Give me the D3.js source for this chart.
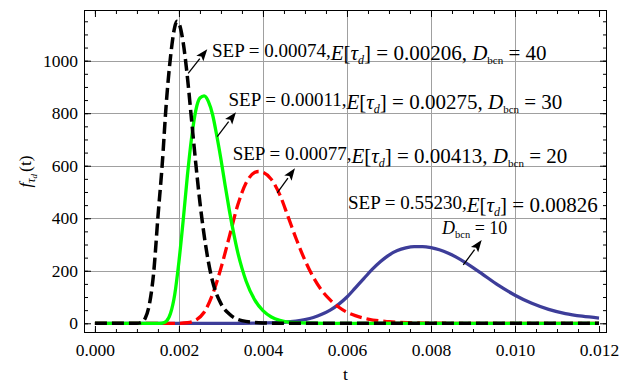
<!DOCTYPE html>
<html>
<head>
<meta charset="utf-8">
<script src="https://cdn.jsdelivr.net/npm/d3@7"></script>
<style>
  body { margin: 0; background: #fff; }
  svg { display: block; }
  text { font-family: "Liberation Serif", "Times New Roman", serif; fill: #000; white-space: pre; }
</style>
</head>
<body>
<svg id="chart" width="630" height="385"></svg>
<script>
// Delay-time densities f(t) for four beacon distances D_bcn
const tD40 = [0, 0.0010, 0.0011, 0.0012, 0.0013, 0.0014, 0.0015, 0.0016, 0.0017, 0.0018, 0.0019, 0.00195, 0.0020, 0.0021, 0.0022, 0.0023, 0.0024, 0.0025, 0.0026, 0.0027, 0.0028, 0.0030, 0.0032, 0.0035, 0.0040, 0.0045, 0.012];
const fD40 = [0, 0, 3, 20, 75, 195, 405, 600, 840, 1015, 1128, 1150, 1142, 1070, 940, 775, 610, 460, 335, 235, 160, 75, 35, 10, 1, 0, 0];

const tD30 = [0, 0.0015, 0.0016, 0.0017, 0.0018, 0.0019, 0.0020, 0.0021, 0.0022, 0.0023, 0.0024, 0.0025, 0.0026, 0.0027, 0.0028, 0.0029, 0.0030, 0.0031, 0.0032, 0.0033, 0.0034, 0.0035, 0.0036, 0.0038, 0.0040, 0.0042, 0.0044, 0.0046, 0.0050, 0.0055, 0.012];
const fD30 = [0, 0, 1, 8, 38, 110, 235, 390, 560, 705, 810, 858, 866, 845, 795, 715, 625, 525, 430, 345, 270, 210, 160, 90, 48, 24, 11, 4.5, 1, 0, 0];

const tD20 = [0, 0.0020, 0.0022, 0.0024, 0.0026, 0.0028, 0.0030, 0.0032, 0.0034, 0.0036, 0.0038, 0.0039, 0.0040, 0.0042, 0.0044, 0.0046, 0.0048, 0.0050, 0.0052, 0.0054, 0.0056, 0.0058, 0.0060, 0.0062, 0.0065, 0.0070, 0.0075, 0.0080, 0.0085, 0.012];
const fD20 = [0, 0, 2, 12, 42, 110, 210, 330, 450, 535, 574, 578, 575, 548, 490, 405, 318, 240, 175, 125, 89, 62, 42, 29, 16, 6, 2, 0.5, 0, 0];

const tD10 = [0, 0.0035, 0.0040, 0.0045, 0.0050, 0.0052, 0.0054, 0.0056, 0.0058, 0.0060, 0.0062, 0.0064, 0.0066, 0.0068, 0.0070, 0.0072, 0.0074, 0.0076, 0.0078, 0.0080, 0.0082, 0.0084, 0.0086, 0.0088, 0.0090, 0.0092, 0.0096, 0.0100, 0.0104, 0.0108, 0.0112, 0.0116, 0.0120];
const fD10 = [0, 0, 1, 4, 14, 22, 34, 50, 72, 100, 135, 170, 205, 235, 260, 277, 287, 292, 292, 288, 280, 268, 252, 233, 212, 190, 145, 107, 76, 53, 37, 27, 20];

// Axis ranges and tick labels
const tRange = [-0.00026, 0.01219];
const fRange = [-37, 1193];
const tTicks = [0, 0.002, 0.004, 0.006, 0.008, 0.010, 0.012];
const tTickLabels = ["0.000", "0.002", "0.004", "0.006", "0.008", "0.010", "0.012"];
const fTicks = [0, 200, 400, 600, 800, 1000];
const fTickLabels = ["0", "200", "400", "600", "800", "1000"];
const tGrid = [0.002, 0.004, 0.006, 0.008, 0.010];
const fGrid = [200, 400, 600, 800, 1000];
const tMinor = d3.range(0, 0.01201, 0.0005);
const fMinor = d3.range(0, 1151, 50);

// Annotation text: SEP, mean delay, distance
const sepValues = ["0.00074", "0.00011", "0.00077", "0.55230"];
const meanValues = ["0.00206", "0.00275", "0.00413", "0.00826"];
const dbcnValues = ["40", "30", "20", "10"];
// Arrow tail / head in data units, and text anchors
const arrowFrom = [[0.00222, 952], [0.002912, 711], [0.00434, 497], [0.008769, 222]];
const arrowTo = [[0.002674, 1044], [0.003357, 804], [0.004762, 590], [0.009207, 317]];
const textAt = [[0.002786, 1014], [0.003179, 826], [0.003279, 623], [0.006024, 434]];
const textAt2 = [0.008262, 340];

const series = [
  { t: tD10, f: fD10, color: "#3d3d99", dash: null, width: 3.3 },
  { t: tD20, f: fD20, color: "#ff0000", dash: "12,5", width: 3.3 },
  { t: tD30, f: fD30, color: "#00ff00", dash: null, width: 3.3 },
  { t: tD40, f: fD40, color: "#000000", dash: "12,5", width: 3.5 }
];

const L = 84, R = 607, T = 10, B = 333;
const x = d3.scaleLinear().domain(tRange).range([L, R]);
const y = d3.scaleLinear().domain(fRange).range([B, T]);

const svg = d3.select("#chart");

svg.append("defs").append("clipPath").attr("id", "plotArea")
  .append("rect").attr("x", L).attr("y", T).attr("width", R - L).attr("height", B - T);

// grid
const grid = svg.append("g").attr("stroke", "#a0a0a0").attr("stroke-width", 1);
grid.selectAll(".gx").data(tGrid).join("line")
  .attr("x1", d => Math.round(x(d)) + 0.5).attr("x2", d => Math.round(x(d)) + 0.5)
  .attr("y1", T).attr("y2", B);
grid.selectAll(".gy").data(fGrid).join("line")
  .attr("y1", d => Math.round(y(d)) + 0.5).attr("y2", d => Math.round(y(d)) + 0.5)
  .attr("x1", L).attr("x2", R);

// curves
const plot = svg.append("g").attr("clip-path", "url(#plotArea)");
const line = d3.line().x(d => x(d[0])).y(d => y(d[1])).curve(d3.curveMonotoneX);
series.forEach(s => {
  plot.append("path")
    .datum(s.t.map((t, i) => [t, s.f[i]]))
    .attr("d", line)
    .attr("fill", "none")
    .attr("stroke", s.color)
    .attr("stroke-width", s.width)
    .attr("stroke-dasharray", s.dash)
    .attr("stroke-linejoin", "round");
});

// axes with inward ticks on all four sides
function styleAxis(g) {
  g.attr("font-family", null).attr("font-size", null);
  g.select(".domain").remove();
  g.selectAll("line").attr("stroke", "#000").attr("stroke-width", 1);
  g.selectAll("text").style("font-size", "17.5px");
}
const fmtT = d => tTickLabels[tTicks.indexOf(d)];
const fmtF = d => fTickLabels[fTicks.indexOf(d)];

svg.append("g").attr("transform", `translate(0,${B})`)
  .call(d3.axisBottom(x).tickValues(tMinor).tickSize(-4).tickFormat(""))
  .call(styleAxis);
svg.append("g").attr("transform", `translate(0,${B})`)
  .call(d3.axisBottom(x).tickValues(tTicks).tickSize(-7).tickPadding(11).tickFormat(fmtT))
  .call(styleAxis);
svg.append("g").attr("transform", `translate(0,${T})`)
  .call(d3.axisTop(x).tickValues(tMinor).tickSize(-4).tickFormat(""))
  .call(styleAxis);
svg.append("g").attr("transform", `translate(0,${T})`)
  .call(d3.axisTop(x).tickValues(tTicks).tickSize(-7).tickFormat(""))
  .call(styleAxis);

svg.append("g").attr("transform", `translate(${L},0)`)
  .call(d3.axisLeft(y).tickValues(fMinor).tickSize(-4).tickFormat(""))
  .call(styleAxis);
svg.append("g").attr("transform", `translate(${L},0)`)
  .call(d3.axisLeft(y).tickValues(fTicks).tickSize(-7).tickPadding(6).tickFormat(fmtF))
  .call(styleAxis);
svg.append("g").attr("transform", `translate(${R},0)`)
  .call(d3.axisRight(y).tickValues(fMinor).tickSize(-4).tickFormat(""))
  .call(styleAxis);
svg.append("g").attr("transform", `translate(${R},0)`)
  .call(d3.axisRight(y).tickValues(fTicks).tickSize(-7).tickFormat(""))
  .call(styleAxis);

// frame
svg.append("rect").attr("x", L + 0.5).attr("y", T + 0.5)
  .attr("width", R - L - 1).attr("height", B - T - 1)
  .attr("fill", "none").attr("stroke", "#000").attr("stroke-width", 1);

// axis titles
svg.append("text").attr("x", (L + R) / 2).attr("y", 380)
  .attr("text-anchor", "middle").style("font-size", "17.5px").text("t");

const yl = svg.append("text")
  .attr("transform", `translate(31,${(T + B) / 2}) rotate(-90)`)
  .attr("text-anchor", "middle").style("font-size", "17.5px");
yl.append("tspan").style("font-style", "italic").text("f");
yl.append("tspan").style("font-style", "italic").style("font-size", "12px").attr("dy", 4).text("τ");
yl.append("tspan").style("font-style", "italic").style("font-size", "9px").attr("dy", 2).text("d");
yl.append("tspan").attr("dy", -6).attr("dx", 2).text("(t)");

// annotation labels: "SEP = …," then the mean delay and distance in a larger math size
const mathSize = "21px", subSize = "12px";
function meanPart(txt, mean, dbcn, withD) {
  txt.append("tspan").attr("dy", 3).style("font-size", mathSize).style("font-style", "italic").text("E");
  txt.append("tspan").style("font-size", mathSize).text("[");
  txt.append("tspan").style("font-size", mathSize).style("font-style", "italic").text("τ");
  txt.append("tspan").style("font-style", "italic").style("font-size", subSize).attr("dy", 4).text("d");
  txt.append("tspan").attr("dy", -4).style("font-size", mathSize).text("] = " + mean + (withD ? ", " : ""));
  if (withD) distPart(txt, dbcn, mathSize, "11px");
}
function distPart(txt, dbcn, size, sub) {
  txt.append("tspan").style("font-size", size).style("font-style", "italic").text("D");
  txt.append("tspan").style("font-size", sub).attr("dy", 4).text("bcn");
  txt.append("tspan").style("font-size", size).attr("dy", -4).text(" = " + dbcn);
}

const ann = svg.append("g").style("font-size", "19px");
sepValues.forEach((sep, i) => {
  const txt = ann.append("text").attr("x", x(textAt[i][0])).attr("y", y(textAt[i][1]));
  txt.append("tspan").text("SEP = " + sep + ",");
  meanPart(txt, meanValues[i], dbcnValues[i], i < 3);
  if (i === 3) {
    const t2 = ann.append("text").attr("x", x(textAt2[0])).attr("y", y(textAt2[1]));
    distPart(t2, dbcnValues[i], "18px", "10.5px");
  }
});

// arrows
const arrows = svg.append("g");
arrowFrom.forEach((a, i) => {
  const x0 = x(a[0]), y0 = y(a[1]);
  const x1 = x(arrowTo[i][0]), y1 = y(arrowTo[i][1]);
  const ang = Math.atan2(y1 - y0, x1 - x0);
  const hl = 12, hw = 4.5;
  const bx = x1 - hl * Math.cos(ang), by = y1 - hl * Math.sin(ang);
  arrows.append("line").attr("x1", x0).attr("y1", y0).attr("x2", bx).attr("y2", by)
    .attr("stroke", "#000").attr("stroke-width", 1.3);
  const nx = -Math.sin(ang), ny = Math.cos(ang);
  const notchX = x1 - (hl - 2.5) * Math.cos(ang), notchY = y1 - (hl - 2.5) * Math.sin(ang);
  arrows.append("path")
    .attr("d", `M${x1},${y1} L${bx + nx * hw},${by + ny * hw} L${notchX},${notchY} L${bx - nx * hw},${by - ny * hw} Z`)
    .attr("fill", "#000");
});
</script>
</body>
</html>
